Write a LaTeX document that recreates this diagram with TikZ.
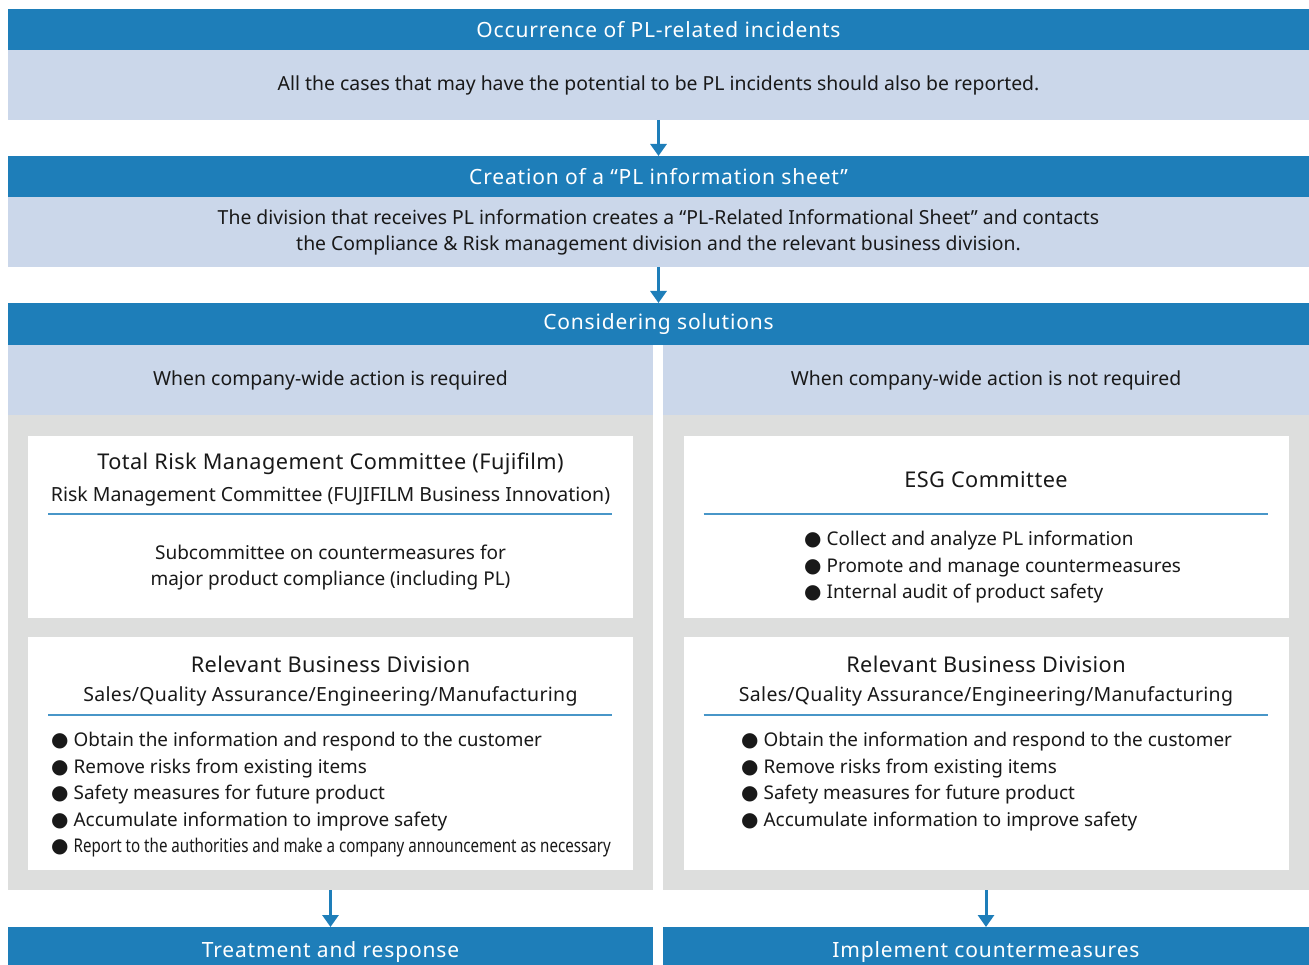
\documentclass[tikz,border=0pt]{standalone}
\usepackage{fontspec}
\setmainfont{Noto Sans}
\newfontfamily\dotfont{DejaVu Sans}
\usetikzlibrary{positioning,arrows.meta}
\definecolor{plblue}{RGB}{30,126,185}
\definecolor{plpale}{RGB}{203,215,234}
\definecolor{plgrey}{RGB}{221,222,221}
\definecolor{plrule}{RGB}{72,150,200}
\definecolor{plink}{RGB}{25,25,25}
\newcommand\dotitem{{\dotfont\fontsize{20}{22}\selectfont ●}\hspace{5pt}}
\tikzset{>={Triangle[length=12pt,width=16pt]}}
\tikzset{
  band/.style={fill=plblue,text=white,minimum height=41pt,inner sep=0pt,outer sep=0pt,
    font=\fontsize{21}{25}\selectfont\addfontfeature{LetterSpace=4}},
  note/.style={fill=plpale,text=plink,minimum height=70pt,inner sep=0pt,outer sep=0pt,
    align=center,font=\fontsize{19.4}{26}\selectfont},
  panel/.style={fill=plgrey,minimum height=475pt,inner sep=0pt,outer sep=0pt},
  card/.style={fill=white,minimum width=605pt,inner sep=0pt,outer sep=0pt},
  cardtitle/.style={text=plink,inner sep=0pt,font=\fontsize{21.7}{26}\selectfont\addfontfeature{LetterSpace=2}},
  cardsub/.style={text=plink,inner sep=0pt,font=\fontsize{19.5}{22}\selectfont},
  body/.style={text=plink,inner sep=0pt,align=center,font=\fontsize{19}{26}\selectfont},
  item/.style={text=plink,inner sep=0pt,anchor=west,font=\fontsize{18.9}{22}\selectfont},
  rule/.style={draw=plrule,line width=2pt},
  flow/.style={->,draw=plblue,line width=3pt}
}
\begin{document}
\begin{tikzpicture}[x=1pt,y=-1pt]
\useasboundingbox (0,0) rectangle (1309,965);
% top flow
\node[band,minimum width=1301pt,anchor=north west] (occur) at (8,9) {Occurrence of PL-related incidents};
\node[note,minimum width=1301pt,below=0pt of occur] (occurnote)
  {All the cases that may have the potential to be PL incidents should also be reported.};
\node[band,minimum width=1301pt,below=36pt of occurnote] (sheet) {Creation of a “PL information sheet”};
\node[note,minimum width=1301pt,below=0pt of sheet] (sheetnote)
  {The division that receives PL information creates a “PL-Related Informational Sheet” and contacts\\
   the Compliance \& Risk management division and the relevant business division.};
\node[band,minimum width=1301pt,minimum height=42pt,below=36pt of sheetnote] (solve) {Considering solutions};
% two branches
\node[note,minimum width=645pt,anchor=north west] (reqnote) at (solve.south west) {When company-wide action is required};
\node[note,minimum width=646pt,anchor=north east] (noreqnote) at (solve.south east) {When company-wide action is not required};
\node[panel,minimum width=645pt,below=0pt of reqnote] (reqpanel) {};
\node[panel,minimum width=646pt,below=0pt of noreqnote] (noreqpanel) {};
\node[card,minimum height=182pt,anchor=north] (trmc) at ([yshift=-21pt]reqpanel.north) {};
\node[card,minimum height=233pt,below=19pt of trmc] (lbiz) {};
\node[card,minimum height=182pt,anchor=north] (esg) at ([yshift=-21pt]noreqpanel.north) {};
\node[card,minimum height=233pt,below=19pt of esg] (rbiz) {};
% left cards
\node[cardtitle] (trmctitle) at ([yshift=-28pt]trmc.north) {Total Risk Management Committee (Fujifilm)};
\node[cardsub] (trmcsub) at ([yshift=-60pt]trmc.north) {Risk Management Committee (FUJIFILM Business Innovation)};
\draw[rule] ([xshift=20pt,yshift=-78pt]trmc.north west) -- ([xshift=-21pt,yshift=-78pt]trmc.north east);
\node[body] (subcom) at ([yshift=-132pt]trmc.north)
  {Subcommittee on countermeasures for\\major product compliance (including PL)};
\node[cardtitle] (lbiztitle) at ([yshift=-27pt]lbiz.north) {Relevant Business Division};
\node[cardsub] (lbizsub) at ([yshift=-59pt]lbiz.north) {\addfontfeature{LetterSpace=1.5}Sales/Quality Assurance/Engineering/Manufacturing};
\draw[rule] ([xshift=20pt,yshift=-78pt]lbiz.north west) -- ([xshift=-21pt,yshift=-78pt]lbiz.north east);
\foreach \txt [count=\i from 0] in {Obtain the information and respond to the customer,
    Remove risks from existing items, Safety measures for future product,
    Accumulate information to improve safety}
  \node[item] (lbiz-\i) at (51,{742+26.5*\i}) {\dotitem\txt};
\node[item] (lbiz-4) at (51,848) {\dotitem\scalebox{0.8}[1]{Report to the authorities and make a company announcement as necessary}};
% right cards
\node[cardtitle] (esgtitle) at ([yshift=-44pt]esg.north) {ESG Committee};
\draw[rule] ([xshift=20pt,yshift=-78pt]esg.north west) -- ([xshift=-21pt,yshift=-78pt]esg.north east);
\foreach \txt [count=\i from 0] in {Collect and analyze PL information,
    Promote and manage countermeasures, Internal audit of product safety}
  \node[item] (esg-\i) at (804,{541+26.5*\i}) {\dotitem\txt};
\node[cardtitle] (rbiztitle) at ([yshift=-27pt]rbiz.north) {Relevant Business Division};
\node[cardsub] (rbizsub) at ([yshift=-59pt]rbiz.north) {\addfontfeature{LetterSpace=1.5}Sales/Quality Assurance/Engineering/Manufacturing};
\draw[rule] ([xshift=20pt,yshift=-78pt]rbiz.north west) -- ([xshift=-21pt,yshift=-78pt]rbiz.north east);
\foreach \txt [count=\i from 0] in {Obtain the information and respond to the customer,
    Remove risks from existing items, Safety measures for future product,
    Accumulate information to improve safety}
  \node[item] (rbiz-\i) at (741,{742+26.5*\i}) {\dotitem\txt};
% results
\node[band,minimum width=645pt,minimum height=50pt,below=37pt of reqpanel] (treat) {Treatment and response};
\node[band,minimum width=646pt,minimum height=50pt,below=37pt of noreqpanel] (implement) {Implement countermeasures};
\draw[flow] (occurnote.south) -- (sheet.north);
\draw[flow] (sheetnote.south) -- (solve.north);
\draw[flow] (reqpanel.south) -- (treat.north);
\draw[flow] (noreqpanel.south) -- (implement.north);
\end{tikzpicture}
\end{document}
